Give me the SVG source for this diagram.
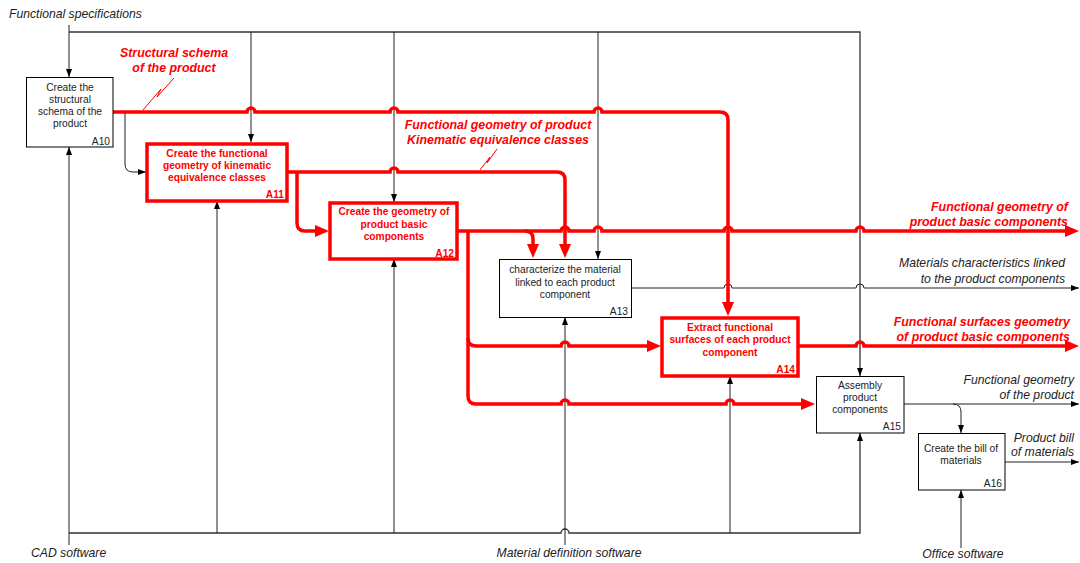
<svg xmlns="http://www.w3.org/2000/svg" width="1080" height="563" viewBox="0 0 1080 563">
<style>
.bx{fill:#fff;stroke:#000;stroke-width:1}
.rbx{fill:#fff;stroke:#ff0000;stroke-width:3.5}
.nt{font-family:"Liberation Sans",Arial,sans-serif;font-size:10.2px;fill:#222;text-anchor:middle}
.rt{font-family:"Liberation Sans",Arial,sans-serif;font-size:10.2px;fill:#ff0000;font-weight:bold;text-anchor:middle}
.num{font-family:"Liberation Sans",Arial,sans-serif;font-size:10.2px;fill:#222;text-anchor:end}
.rnum{font-family:"Liberation Sans",Arial,sans-serif;font-size:10.2px;fill:#ff0000;font-weight:bold;text-anchor:end}
.lb{font-family:"Liberation Sans",Arial,sans-serif;font-size:12.2px;font-style:italic;fill:#222}
.rlb{font-family:"Liberation Sans",Arial,sans-serif;font-size:12.4px;font-style:italic;font-weight:bold;fill:#ff0000}
.k{fill:none;stroke:#222;stroke-width:1}
.kt{fill:none;stroke:#333;stroke-width:1.3}
.r{fill:none;stroke:#ff0000;stroke-width:3.5}
.sq{fill:none;stroke:#ff0000;stroke-width:1}
</style>
<defs>
<marker id="ab" viewBox="0 0 8 6" refX="8" refY="3" markerWidth="8" markerHeight="6" orient="auto" markerUnits="userSpaceOnUse"><path d="M0,0L8,3L0,6z" fill="#000"/></marker>
<marker id="ar" viewBox="0 0 14 12" refX="1" refY="6" markerWidth="14" markerHeight="12" orient="auto" markerUnits="userSpaceOnUse"><path d="M0,0L14,6L0,12z" fill="#ff0000"/></marker>
</defs>
<rect width="1080" height="563" fill="#fff"/>

<g id="connectors">
<!-- controls -->
<path class="k" d="M69,25V77" marker-end="url(#ab)"/>
<path class="kt" d="M69,32H860V376" marker-end="url(#ab)"/>
<path class="k" d="M251,32V142" marker-end="url(#ab)"/>
<path class="k" d="M394,32V202" marker-end="url(#ab)"/>
<path class="k" d="M598,32V259" marker-end="url(#ab)"/>
<!-- mechanisms -->
<path class="k" d="M69,545V147" marker-end="url(#ab)"/>
<path class="kt" d="M69,533H561A4,4 0 0 1 569,533H860V433" marker-end="url(#ab)"/>
<path class="k" d="M217,533V201" marker-end="url(#ab)"/>
<path class="k" d="M394,533V259" marker-end="url(#ab)"/>
<path class="k" d="M565,545V317" marker-end="url(#ab)"/>
<path class="k" d="M730,533V376" marker-end="url(#ab)"/>
<path class="k" d="M961,548V490" marker-end="url(#ab)"/>
<!-- black flows -->
<path class="k" d="M125,112V164Q125,172 133,172H146" marker-end="url(#ab)"/>
<path class="k" d="M632,288H724A4,4 0 0 1 732,288H856A4,4 0 0 1 864,288H1079" marker-end="url(#ab)"/>
<path class="k" d="M904,404H1079" marker-end="url(#ab)"/>
<path class="k" d="M953,404Q961,404 961,412V433" marker-end="url(#ab)"/>
<path class="k" d="M1005,462H1079" marker-end="url(#ab)"/>
<!-- red flows -->
<path class="r" d="M113,112H247A4,4 0 0 1 255,112H390A4,4 0 0 1 398,112H594A4,4 0 0 1 602,112H720Q728,112 728,120V303" marker-end="url(#ar)"/>
<path class="r" d="M287,172H390A4,4 0 0 1 398,172H557Q565,172 565,180V245" marker-end="url(#ar)"/>
<path class="r" d="M297,172V223Q297,231 305,231H316" marker-end="url(#ar)"/>
<path class="r" d="M457,231H561A4,4 0 0 1 569,231H594A4,4 0 0 1 602,231H724A4,4 0 0 1 732,231H856A4,4 0 0 1 864,231H1066" marker-end="url(#ar)"/>
<path class="r" d="M525,231Q533,231 533,239V245" marker-end="url(#ar)"/>
<path class="r" d="M468,231V338Q468,346 476,346H561A4,4 0 0 1 569,346H648" marker-end="url(#ar)"/>
<path class="r" d="M468,338V396Q468,404 476,404H561A4,4 0 0 1 569,404H726A4,4 0 0 1 734,404H802" marker-end="url(#ar)"/>
<path class="r" d="M798,346H856A4,4 0 0 1 864,346H1066" marker-end="url(#ar)"/>
<!-- squiggles -->
<path class="sq" d="M143,110L161,89L157,97L174,78"/>
<path class="sq" d="M480,170L490,157L487,163L497,149"/>
</g>

<g id="labels">
<text class="lb" x="9" y="18">Functional specifications</text>
<text class="rlb" x="174" y="57" text-anchor="middle">Structural schema</text>
<text class="rlb" x="174" y="72" text-anchor="middle">of the product</text>
<text class="rlb" x="498" y="129" text-anchor="middle">Functional geometry of product</text>
<text class="rlb" x="498" y="144" text-anchor="middle">Kinematic equivalence classes</text>
<text class="rlb" x="1068" y="211" text-anchor="end">Functional geometry of</text>
<text class="rlb" x="1068" y="226" text-anchor="end">product basic components</text>
<text class="lb" x="1065" y="267" text-anchor="end">Materials characteristics linked</text>
<text class="lb" x="1065" y="283" text-anchor="end">to the product components</text>
<text class="rlb" x="1070" y="326" text-anchor="end">Functional surfaces geometry</text>
<text class="rlb" x="1070" y="341" text-anchor="end">of product basic components</text>
<text class="lb" x="1074" y="384" text-anchor="end">Functional geometry</text>
<text class="lb" x="1074" y="399" text-anchor="end">of the product</text>
<text class="lb" x="1074" y="442" text-anchor="end">Product bill</text>
<text class="lb" x="1074" y="456" text-anchor="end">of materials</text>
<text class="lb" x="31" y="557">CAD software</text>
<text class="lb" x="569" y="557" text-anchor="middle">Material definition software</text>
<text class="lb" x="963" y="558" text-anchor="middle">Office software</text>
</g>

<g id="A10">
<rect class="bx" x="26.5" y="77.5" width="86.5" height="69.5"/>
<text class="nt" x="70" y="91">Create the</text>
<text class="nt" x="70" y="103">structural</text>
<text class="nt" x="70" y="115">schema of the</text>
<text class="nt" x="70" y="127">product</text>
<text class="num" x="110" y="145">A10</text>
</g>
<g id="A11">
<rect class="rbx" x="147" y="144" width="140" height="57"/>
<text class="rt" x="217" y="157">Create the functional</text>
<text class="rt" x="217" y="169">geometry of kinematic</text>
<text class="rt" x="217" y="181">equivalence classes</text>
<text class="rnum" x="284" y="198">A11</text>
</g>
<g id="A12">
<rect class="rbx" x="330" y="203" width="127" height="56"/>
<text class="rt" x="394" y="215">Create the geometry of</text>
<text class="rt" x="394" y="228">product basic</text>
<text class="rt" x="394" y="240">components</text>
<text class="rnum" x="454" y="257">A12</text>
</g>
<g id="A13">
<rect class="bx" x="499.5" y="259.5" width="132" height="58"/>
<text class="nt" x="565" y="273">characterize the material</text>
<text class="nt" x="565" y="286">linked to each product</text>
<text class="nt" x="565" y="298">component</text>
<text class="num" x="628" y="315">A13</text>
</g>
<g id="A14">
<rect class="rbx" x="662" y="318" width="136" height="58"/>
<text class="rt" x="730" y="331">Extract functional</text>
<text class="rt" x="730" y="343">surfaces of each product</text>
<text class="rt" x="730" y="356">component</text>
<text class="rnum" x="795" y="373">A14</text>
</g>
<g id="A15">
<rect class="bx" x="816.5" y="376.5" width="87.5" height="56.5"/>
<text class="nt" x="860" y="389">Assembly</text>
<text class="nt" x="860" y="401">product</text>
<text class="nt" x="860" y="413">components</text>
<text class="num" x="901" y="430">A15</text>
</g>
<g id="A16">
<rect class="bx" x="918.5" y="433.5" width="86.5" height="56.5"/>
<text class="nt" x="961" y="452">Create the bill of</text>
<text class="nt" x="961" y="464">materials</text>
<text class="num" x="1002" y="487">A16</text>
</g>
</svg>
